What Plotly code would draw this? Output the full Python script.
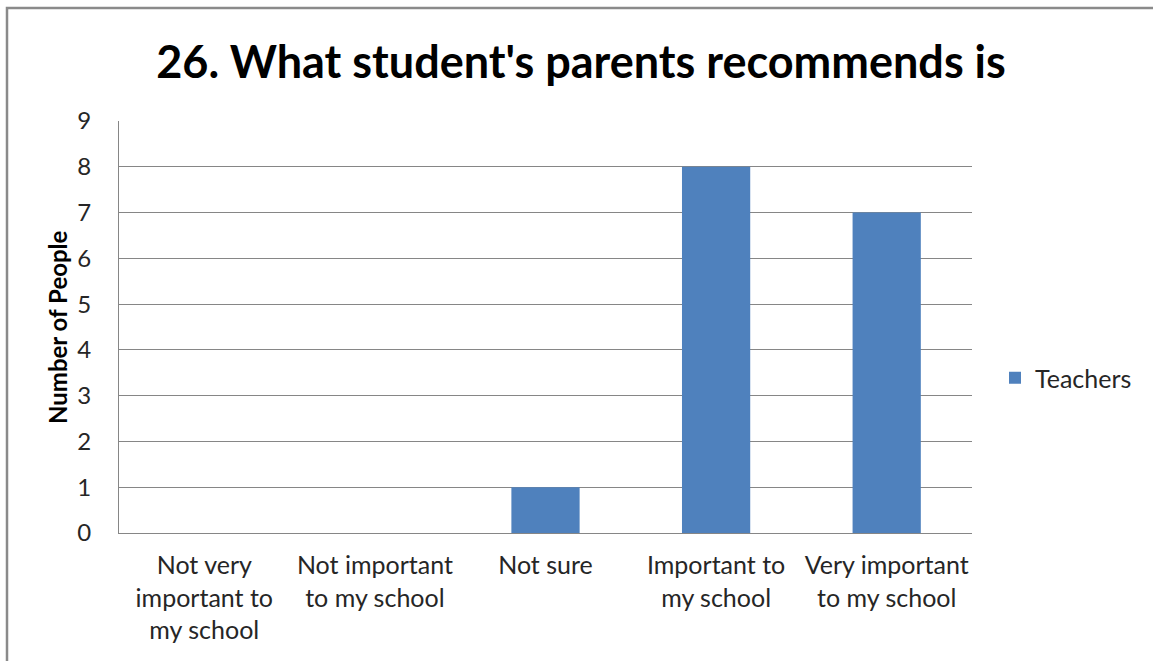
import plotly.graph_objects as go

categories = [
    "Not very<br>important to<br>my school",
    "Not important<br>to my school",
    "Not sure",
    "Important to<br>my school",
    "Very important<br>to my school",
]
teachers = [0, 0, 1, 8, 7]
y_ticks = list(range(0, 10))

W, H = 1153, 661
L, R, T, B = 119, 181, 121, 128
pw, ph = W - L - R, H - T - B

FONT = "Lato, Open Sans, sans-serif"

fig = go.Figure()
fig.add_trace(go.Bar(
    x=categories, y=teachers, name="Teachers",
    marker=dict(color="#4F81BD", line=dict(width=0)),
))

# outer chart frame, running off the right and bottom edges
fig.add_shape(
    type="rect", xref="paper", yref="paper",
    x0=(7 - L) / pw, x1=(W + 10 - L) / pw,
    y0=-(B + 10) / ph, y1=1 + (T - 8) / ph,
    line=dict(color="#8a8a8a", width=2.5), fillcolor="rgba(0,0,0,0)", layer="below",
)

# vertical axis title
fig.add_annotation(
    text="<b>Number of People</b>", textangle=-90,
    xref="paper", yref="paper", x=(57 - L) / pw, y=0.5,
    xanchor="center", yanchor="middle", showarrow=False,
    font=dict(family=FONT, size=24, color="black"),
)

fig.update_layout(
    width=W, height=H,
    margin=dict(l=L, r=R, t=T, b=B, autoexpand=False),
    paper_bgcolor="white", plot_bgcolor="white",
    font=dict(family=FONT, size=25, color="#262626"),
    title=dict(
        text="<b>26. What student's parents recommends is</b>",
        x=581 / W, xanchor="center", xref="container",
        y=1 - 62 / H, yanchor="middle", yref="container",
        font=dict(family=FONT, size=45, color="black"),
    ),
    bargap=0.6,
    showlegend=True,
    legend=dict(
        x=1 + (995 - 972) / pw, xanchor="left",
        y=0.5 + (327 - 378) / ph, yanchor="middle",
        font=dict(family=FONT, size=25, color="#262626"),
        itemwidth=30,
    ),
    xaxis=dict(
        showgrid=False, showline=True, linecolor="#868686", linewidth=1.2,
        ticks="", ticklabelstandoff=10, automargin=False,
        tickfont=dict(size=25, color="#262626"),
    ),
    yaxis=dict(
        range=[0, 9], tickvals=y_ticks, automargin=False,
        showgrid=True, gridcolor="#868686", gridwidth=1.2,
        showline=True, linecolor="#868686", linewidth=1.2,
        ticks="", ticklabelstandoff=22,
        tickfont=dict(size=24, color="#262626"),
        zeroline=False,
    ),
)

fig.write_html("out.html")
